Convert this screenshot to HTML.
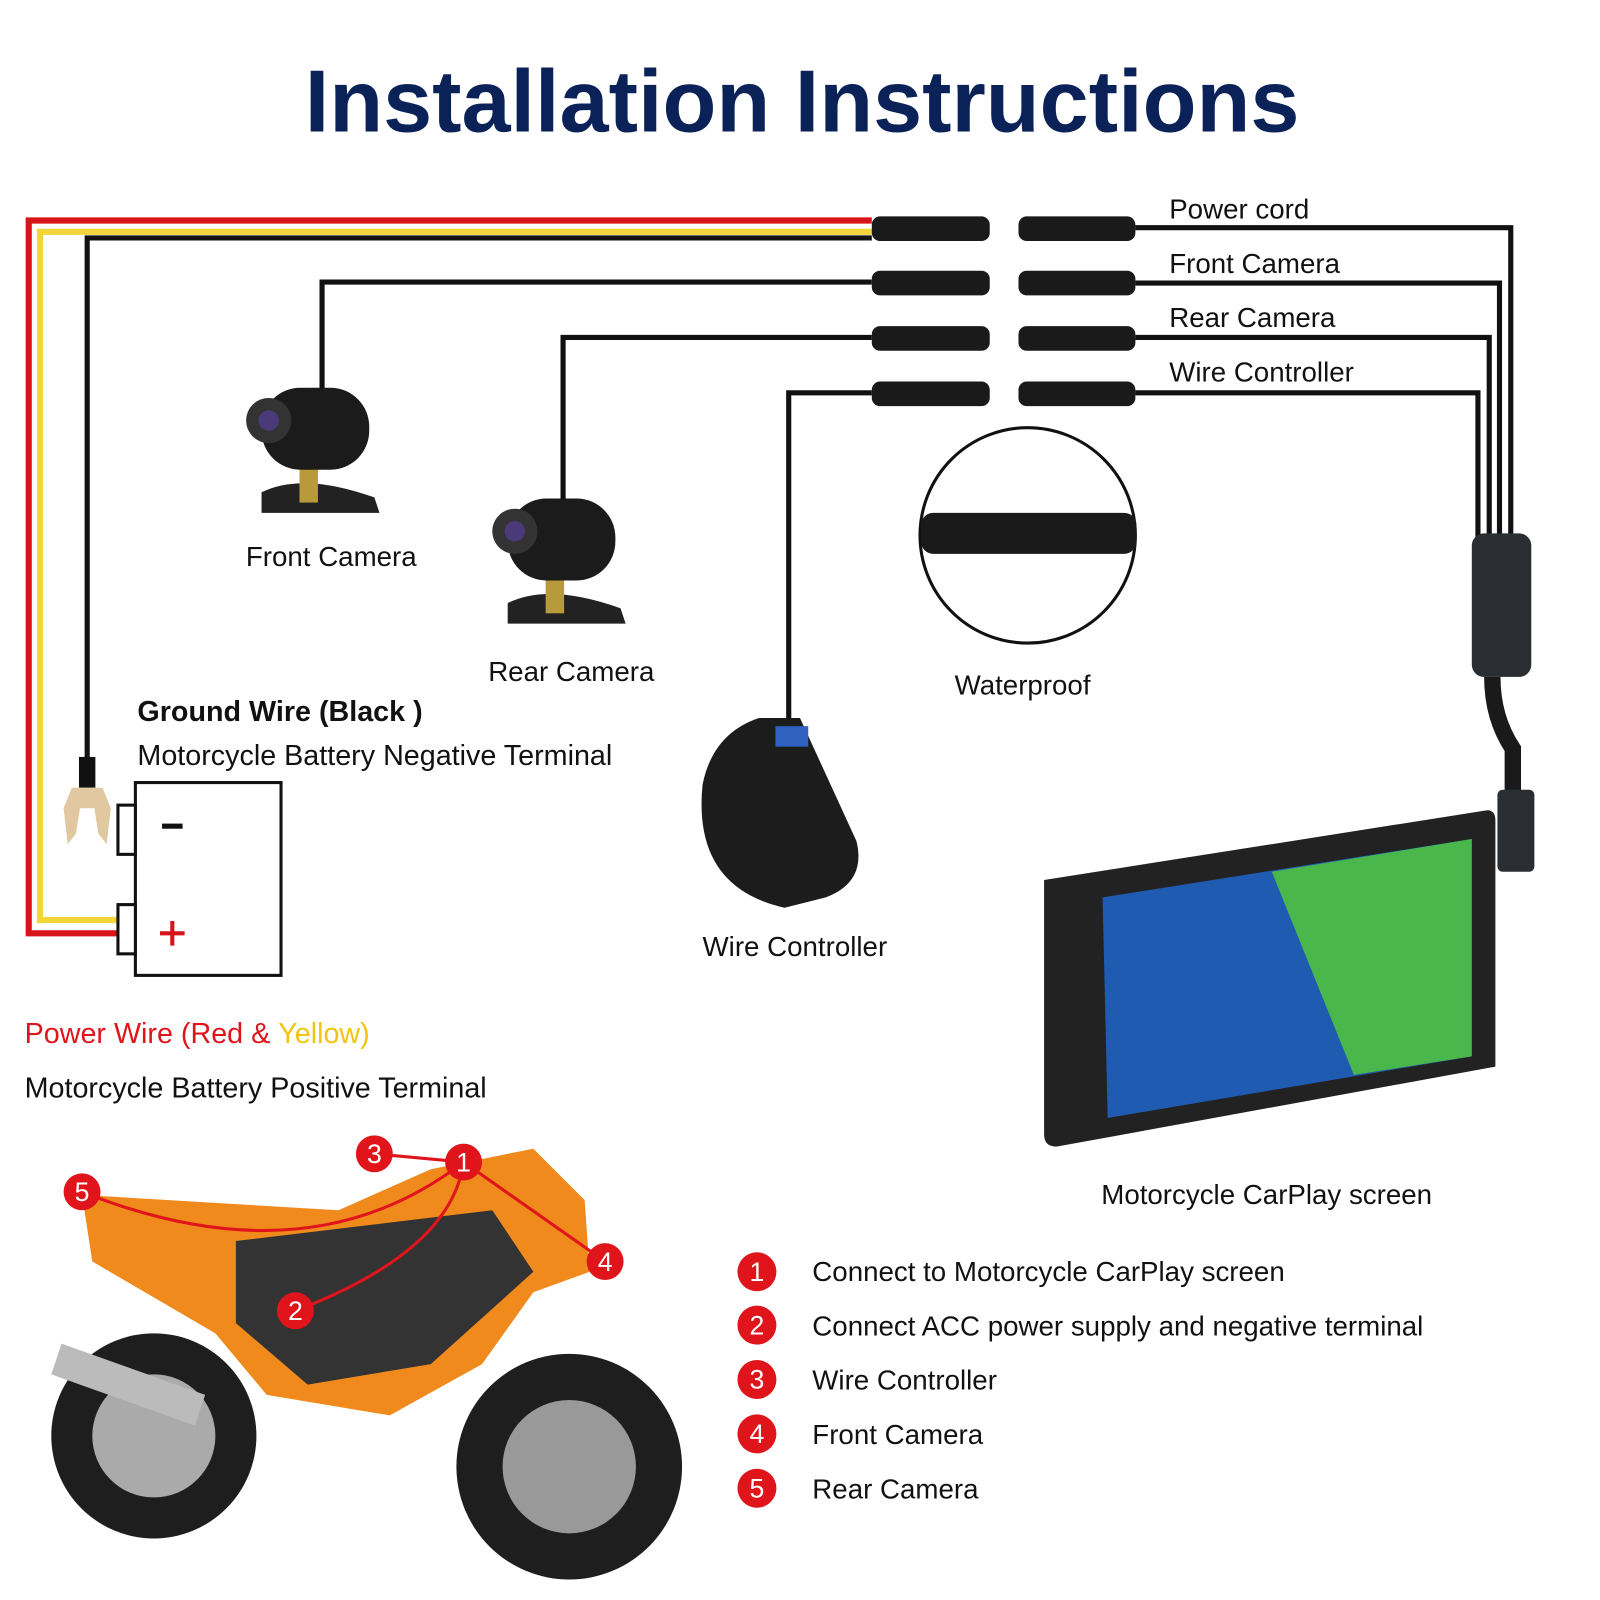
<!DOCTYPE html>
<html><head><meta charset="utf-8"><style>
html,body{margin:0;padding:0;background:#fff;}
svg{display:block}
text{font-family:"Liberation Sans",Arial,sans-serif;}
</style></head><body>
<svg width="1600" height="1600" viewBox="0 0 1560 1560" xmlns="http://www.w3.org/2000/svg">
<rect width="1560" height="1560" fill="#fff"/>
<text x="782" y="128" text-anchor="middle" font-size="86" font-weight="bold" fill="#0b2259">Installation Instructions</text>

<polyline points="850,215 28,215 28,910 115,910" fill="none" stroke="#d8141b" stroke-width="6"/>
<polyline points="850,226 39,226 39,897 115,897" fill="none" stroke="#f2d53a" stroke-width="6"/>
<polyline points="850,232 85,232 85,740" fill="none" stroke="#111" stroke-width="5"/>
<rect x="77" y="738" width="16" height="30" fill="#111"/>
<path d="M70,768 h30 l8,20 l-4,35 l-8,-10 l-4,-25 h-14 l-4,25 l-8,10 l-4,-35z" fill="#e2c8a0"/>
<polyline points="850,275 314,275 314,380" fill="none" stroke="#111" stroke-width="5"/>
<polyline points="850,329 549,329 549,490" fill="none" stroke="#111" stroke-width="5"/>
<polyline points="850,383 769,383 769,700" fill="none" stroke="#111" stroke-width="5"/>

<g fill="#1a1a1a">
<g id="c"><rect x="850" y="211" width="115" height="24" rx="8"/><rect x="993" y="211" width="114" height="24" rx="8"/></g>
<use href="#c" y="53"/><use href="#c" y="107"/><use href="#c" y="161"/>
</g>
<g fill="none" stroke="#111" stroke-width="5">
<polyline points="1107,222 1473,222 1473,525"/>
<polyline points="1107,276 1462,276 1462,525"/>
<polyline points="1107,329 1452,329 1452,525"/>
<polyline points="1107,383 1441,383 1441,525"/>
</g>
<text x="1140" y="213" font-size="27" fill="#111">Power cord</text>
<text x="1140" y="266" font-size="27" fill="#111">Front Camera</text>
<text x="1140" y="319" font-size="27" fill="#111">Rear Camera</text>
<text x="1140" y="372" font-size="27" fill="#111">Wire Controller</text>
<rect x="1435" y="520" width="58" height="140" rx="12" fill="#2a2e33"/>
<path d="M1455,660 q0,40 20,70 l0,60" fill="none" stroke="#1a1a1a" stroke-width="16"/>
<rect x="1460" y="770" width="36" height="80" rx="5" fill="#2a2e33"/>

<circle cx="1002" cy="522" r="105" fill="#fff" stroke="#111" stroke-width="3"/>
<rect x="898" y="500" width="210" height="40" rx="12" fill="#1a1a1a"/>
<text x="997" y="677" text-anchor="middle" font-size="27" fill="#111">Waterproof</text>

<g id="cam">
<path d="M255,480 q40,-20 110,5 l5,15 l-115,0z" fill="#222"/>
<rect x="292" y="455" width="18" height="35" fill="#b89a3a"/>
<rect x="255" y="378" width="105" height="80" rx="38" fill="#1b1b1b"/>
<circle cx="262" cy="410" r="22" fill="#333"/><circle cx="262" cy="410" r="10" fill="#4a3a7a"/>
</g>
<use href="#cam" x="240" y="108"/>
<text x="323" y="552" text-anchor="middle" font-size="27" fill="#111">Front Camera</text>
<text x="557" y="664" text-anchor="middle" font-size="27" fill="#111">Rear Camera</text>

<path d="M740,700 h40 l55,120 q10,40 -30,55 l-40,10 q-90,-20 -80,-120 q10,-50 55,-65z" fill="#1c1c1c"/>
<rect x="756" y="708" width="32" height="20" fill="#2f62c0"/>
<text x="775" y="932" text-anchor="middle" font-size="27" fill="#111">Wire Controller</text>

<text x="134" y="703" font-size="28" font-weight="bold" fill="#111">Ground Wire (Black )</text>
<text x="134" y="746" font-size="28" fill="#111">Motorcycle Battery Negative Terminal</text>
<rect x="132" y="763" width="142" height="188" fill="#fff" stroke="#111" stroke-width="3"/>
<rect x="115" y="785" width="17" height="48" fill="#fff" stroke="#111" stroke-width="3"/>
<rect x="115" y="882" width="17" height="48" fill="#fff" stroke="#111" stroke-width="3"/>
<rect x="158" y="803" width="20" height="5" fill="#111"/>
<path d="M168,898 v24 M156,910 h24" stroke="#d8141b" stroke-width="4"/>
<text x="24" y="1017" font-size="28" fill="#e0151b">Power Wire (Red &amp; <tspan fill="#f1c40f">Yellow)</tspan></text>
<text x="24" y="1070" font-size="28" fill="#111">Motorcycle Battery Positive Terminal</text>

<path d="M1018,858 L1450,790 q8,0 8,10 L1458,1040 L1030,1118 q-12,0 -12,-12z" fill="#222"/>
<path d="M1075,875 L1435,818 L1435,1030 L1080,1090z" fill="#1f5bb0"/>
<path d="M1240,850 L1435,818 L1435,1030 L1320,1048z" fill="#49b74b"/>
<text x="1235" y="1174" text-anchor="middle" font-size="27" fill="#111">Motorcycle CarPlay screen</text>

<circle cx="150" cy="1400" r="100" fill="#1e1e1e"/><circle cx="150" cy="1400" r="60" fill="#aaa"/>
<circle cx="555" cy="1430" r="110" fill="#1e1e1e"/><circle cx="555" cy="1430" r="65" fill="#999"/>
<path d="M80,1165 L330,1180 L420,1140 L520,1120 L570,1170 L575,1240 L520,1260 L470,1330 L380,1380 L260,1360 L210,1300 L90,1230z" fill="#f08a1d"/>
<path d="M230,1210 L480,1180 L520,1240 L420,1330 L300,1350 L230,1290z" fill="#333"/>
<path d="M60,1310 L200,1360 L190,1390 L50,1340z" fill="#bbb"/>
<g fill="none" stroke="#e0151b" stroke-width="3">
<path d="M80,1162 Q300,1250 452,1133"/><path d="M288,1278 Q440,1220 452,1133"/><path d="M452,1133 L590,1230"/><path d="M365,1125 L452,1133"/>
</g>
<g font-size="26" fill="#fff" text-anchor="middle">
<circle cx="80" cy="1162" r="18" fill="#e0151b"/><text x="80" y="1171">5</text>
<circle cx="365" cy="1125" r="18" fill="#e0151b"/><text x="365" y="1134">3</text>
<circle cx="452" cy="1133" r="18" fill="#e0151b"/><text x="452" y="1142">1</text>
<circle cx="590" cy="1230" r="18" fill="#e0151b"/><text x="590" y="1239">4</text>
<circle cx="288" cy="1278" r="18" fill="#e0151b"/><text x="288" y="1287">2</text>
</g>

<g font-size="27" fill="#111">
<g fill="#e0151b"><circle cx="738" cy="1240" r="19"/><circle cx="738" cy="1292" r="19"/><circle cx="738" cy="1345" r="19"/><circle cx="738" cy="1398" r="19"/><circle cx="738" cy="1451" r="19"/></g>
<g fill="#fff" text-anchor="middle" font-size="26"><text x="738" y="1249">1</text><text x="738" y="1301">2</text><text x="738" y="1354">3</text><text x="738" y="1407">4</text><text x="738" y="1460">5</text></g>
<text x="792" y="1249">Connect to Motorcycle CarPlay screen</text>
<text x="792" y="1302">Connect ACC power supply and negative terminal</text>
<text x="792" y="1355">Wire Controller</text>
<text x="792" y="1408">Front Camera</text>
<text x="792" y="1461">Rear Camera</text>
</g>
</svg>
</body></html>
